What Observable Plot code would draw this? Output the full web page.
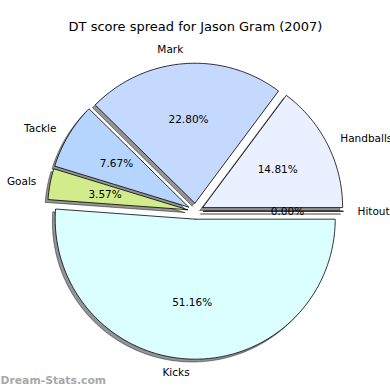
<!DOCTYPE html>
<html>
<head>
<meta charset="utf-8">
<script src="https://cdn.jsdelivr.net/npm/d3@7"></script>
<script src="https://cdn.jsdelivr.net/npm/@observablehq/plot@0.6"></script>
<style>
  html, body { margin: 0; padding: 0; background: #fff; }
  #chart svg { display: block; }
</style>
</head>
<body>
<div id="chart"></div>
<script>
// ---- data ----
const labels = ["Hitout", "Handballs", "Mark", "Tackle", "Goals", "Kicks"];
const percents = [0.00, 14.81, 22.80, 7.67, 3.57, 51.16];
const sliceColors = ["#ffffff", "#eaf0ff", "#c5d9ff", "#b5d5ff", "#d2ec8c", "#dbffff"];
const titleText = "DT score spread for Jason Gram (2007)";
const watermark = "Dream-Stats.com";

// ---- pie geometry (unit radius, matplotlib-style: start at 0°, counter-clockwise) ----
const explode = 0.057;
const shadowOffset = 0.02;
const total = d3.sum(percents);
const slices = [];
let acc = 0;
labels.forEach((label, i) => {
  const t1 = acc / total * 2 * Math.PI;
  acc += percents[i];
  const t2 = acc / total * 2 * Math.PI;
  const tm = (t1 + t2) / 2;
  const ox = explode * Math.cos(tm), oy = explode * Math.sin(tm);
  slices.push({label, pct: percents[i], t1, t2, tm, ox, oy});
});

function slicePoints(s, dx, dy) {
  const pts = [{label: s.label, x: s.ox + dx, y: s.oy + dy}];
  const n = Math.max(2, Math.ceil((s.t2 - s.t1) / (Math.PI / 180)));
  for (let k = 0; k <= n; k++) {
    const t = s.t1 + (s.t2 - s.t1) * k / n;
    pts.push({label: s.label, x: s.ox + dx + Math.cos(t), y: s.oy + dy + Math.sin(t)});
  }
  pts.push({label: s.label, x: s.ox + dx, y: s.oy + dy});
  return pts;
}
const wedgePts = slices.flatMap(s => slicePoints(s, 0, 0));
const shadowPts = slices.flatMap(s => slicePoints(s, -shadowOffset, -shadowOffset));

const labelPts = slices.map(s => ({
  label: s.label,
  x: s.ox + 1.1 * Math.cos(s.tm),
  y: s.oy + 1.1 * Math.sin(s.tm),
  right: Math.cos(s.tm) > 0
}));
const pctPts = slices.map(s => ({
  text: s.pct.toFixed(2) + "%",
  x: s.ox + 0.6 * Math.cos(s.tm),
  y: s.oy + 0.6 * Math.sin(s.tm)
}));

const chart = Plot.plot({
  width: 390,
  height: 390,
  margin: 0,
  style: {fontFamily: "DejaVu Sans, sans-serif", background: "#fff", overflow: "visible"},
  x: {domain: [-195 / 140, 195 / 140], range: [0, 390], axis: null},
  y: {domain: [-(390 - 210.7) / 140, 210.7 / 140], range: [390, 0], axis: null},
  color: {domain: labels, range: sliceColors},
  marks: [
    Plot.line(shadowPts, {x: "x", y: "y", z: "label", fill: "#000", fillOpacity: 0.42, stroke: "#000", strokeOpacity: 0.42, strokeWidth: 1}),
    Plot.line(wedgePts, {x: "x", y: "y", z: "label", fill: "label", stroke: "#000", strokeWidth: 0.8, strokeLinejoin: "miter"}),
    Plot.text(labelPts.filter(d => d.right), {x: "x", y: "y", text: "label", textAnchor: "start", lineAnchor: "middle", fontSize: 10.5, fill: "#000"}),
    Plot.text(labelPts.filter(d => !d.right), {x: "x", y: "y", text: "label", textAnchor: "end", lineAnchor: "middle", fontSize: 10.5, fill: "#000"}),
    Plot.text(pctPts, {x: "x", y: "y", text: "text", textAnchor: "middle", lineAnchor: "middle", fontSize: 10.5, fill: "#000"}),
    Plot.text([titleText], {frameAnchor: "top", dy: 26, lineAnchor: "middle", fontSize: 13, fill: "#000"}),
    Plot.text([watermark], {frameAnchor: "bottom-left", dx: 0, dy: -10, textAnchor: "start", lineAnchor: "middle", fontSize: 10.8, fontWeight: "bold", fill: "#a8a8a8"})
  ]
});
document.getElementById("chart").appendChild(chart);
</script>
</body>
</html>
